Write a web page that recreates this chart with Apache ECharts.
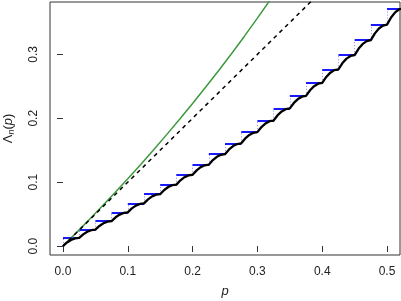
<!DOCTYPE html>
<html>
<head>
<meta charset="utf-8">
<script src="https://cdn.jsdelivr.net/npm/echarts@6/dist/echarts.min.js"></script>
<style>html,body{margin:0;padding:0;background:#fff}#c{width:401px;height:301px}</style>
</head>
<body>
<div id="c"></div>
<script>
// ---- data ----
const stepP = [0,0.025,0.05,0.075,0.1,0.125,0.15,0.175,0.2,0.225,0.25,0.275,0.3,0.325,0.35,0.375,0.4,0.425,0.45,0.475,0.5,0.525];
const cornerY = [0,0.0127,0.0256,0.0390,0.0527,0.0668,0.0813,0.0962,0.1116,0.1274,0.1438,0.1608,0.1783,0.1965,0.2154,0.2350,0.2554,0.2767,0.2989,0.3222,0.3466,0.3722];
const blackCurve = [
 [0,0],[0.00625,0.0056],[0.0125,0.0095],[0.01875,0.0119],
 [0.025,0.0127],[0.03125,0.0183],[0.0375,0.0224],[0.04375,0.0248],
 [0.05,0.0256],[0.05625,0.0315],[0.0625,0.0357],[0.06875,0.0382],
 [0.075,0.0390],[0.08125,0.0450],[0.0875,0.0493],[0.09375,0.0518],
 [0.1,0.0527],[0.10625,0.0589],[0.1125,0.0633],[0.11875,0.0659],
 [0.125,0.0668],[0.13125,0.0731],[0.1375,0.0777],[0.14375,0.0804],
 [0.15,0.0813],[0.15625,0.0878],[0.1625,0.0925],[0.16875,0.0953],
 [0.175,0.0962],[0.18125,0.1029],[0.1875,0.1078],[0.19375,0.1106],
 [0.2,0.1116],[0.20625,0.1185],[0.2125,0.1235],[0.21875,0.1264],
 [0.225,0.1274],[0.23125,0.1346],[0.2375,0.1397],[0.24375,0.1428],
 [0.25,0.1438],[0.25625,0.1512],[0.2625,0.1566],[0.26875,0.1597],
 [0.275,0.1608],[0.28125,0.1685],[0.2875,0.1739],[0.29375,0.1772],
 [0.3,0.1783],[0.30625,0.1863],[0.3125,0.1920],[0.31875,0.1954],
 [0.325,0.1965],[0.33125,0.2048],[0.3375,0.2107],[0.34375,0.2142],
 [0.35,0.2154],[0.35625,0.2240],[0.3625,0.2301],[0.36875,0.2338],
 [0.375,0.2350],[0.38125,0.2439],[0.3875,0.2503],[0.39375,0.2541],
 [0.4,0.2554],[0.40625,0.2647],[0.4125,0.2714],[0.41875,0.2754],
 [0.425,0.2767],[0.43125,0.2864],[0.4375,0.2934],[0.44375,0.2975],
 [0.45,0.2989],[0.45625,0.3091],[0.4625,0.3164],[0.46875,0.3207],
 [0.475,0.3222],[0.48125,0.3329],[0.4875,0.3405],[0.49375,0.3451],
 [0.5,0.3466],[0.50625,0.3578],[0.5125,0.3658],[0.51875,0.3706],
 [0.525,0.3722]
];
const greenCurve = [[0,0],[0.02,0.0202],[0.04,0.0408],[0.06,0.0619],[0.08,0.0834],[0.10,0.1054],[0.12,0.1278],[0.14,0.1508],[0.16,0.1744],[0.18,0.1985],[0.20,0.2231],[0.22,0.2485],[0.24,0.2744],[0.26,0.3011],[0.28,0.3285],[0.30,0.3567],[0.32,0.3857],[0.34,0.4155]];
const dashedLine = [[0,0],[0.4,0.4]];
const xTicks = [0,0.1,0.2,0.3,0.4,0.5];
const yTicks = [0,0.1,0.2,0.3];

// ---- derived marks ----
const blueSegs = [];
const dotSegs = [];
for (let k = 0; k < stepP.length - 1; k++) {
  blueSegs.push({coords: [[stepP[k], cornerY[k+1]], [stepP[k+1], cornerY[k+1]]]});
  dotSegs.push({coords: [[stepP[k], cornerY[k]], [stepP[k], cornerY[k+1]]]});
}

const FONT = '"Liberation Sans", Arial, Helvetica, sans-serif';
const chart = echarts.init(document.getElementById('c'), null, {renderer: 'canvas'});
chart.setOption({
  animation: false,
  backgroundColor: '#fff',
  grid: {left: 50, right: 1, top: 2, bottom: 46, containLabel: false, outerBoundsMode: 'none',
         show: true, borderColor: '#333', borderWidth: 1, backgroundColor: 'transparent'},
  xAxis: {
    type: 'value', min: -0.02, max: 0.52,
    axisLine: {show: false},
    splitLine: {show: false},
    axisTick: {show: true, inside: false, length: 6, customValues: xTicks, lineStyle: {color: '#333'}},
    axisLabel: {customValues: xTicks, margin: 11, fontSize: 12, color: '#222', fontFamily: FONT, formatter: v => v.toFixed(1)},
    name: 'p', nameLocation: 'middle', nameGap: 30,
    nameTextStyle: {fontSize: 13, fontStyle: 'italic', color: '#222', fontFamily: FONT}
  },
  yAxis: {
    type: 'value', min: -0.014, max: 0.382,
    axisLine: {show: false},
    splitLine: {show: false},
    axisTick: {show: true, inside: false, length: 6, customValues: yTicks, lineStyle: {color: '#333'}},
    axisLabel: {customValues: yTicks, rotate: 90, margin: 10, fontSize: 12, color: '#222', fontFamily: FONT, formatter: v => v.toFixed(1)},
    name: '{a|Λ}{s|n}{a|(}{i|p}{a|)}', nameLocation: 'middle', nameGap: 34, nameRotate: 90,
    nameTextStyle: {
      color: '#222', fontFamily: FONT,
      rich: {
        a: {fontSize: 13, fontFamily: FONT, color: '#222'},
        i: {fontSize: 13, fontStyle: 'italic', fontFamily: FONT, color: '#222'},
        s: {fontSize: 9, fontStyle: 'italic', fontFamily: FONT, color: '#222', verticalAlign: 'bottom', padding: [6, 0, 0, 0]}
      }
    }
  },
  series: [
    {type: 'line', data: greenCurve, symbol: 'none', clip: true, lineStyle: {color: '#3c9a3c', width: 1.5}},
    {type: 'line', data: dashedLine, symbol: 'none', clip: true, lineStyle: {color: '#000', width: 1.5, type: [4, 4]}},
    {type: 'lines', coordinateSystem: 'cartesian2d', data: dotSegs, clip: true, lineStyle: {color: '#8a8aff', width: 1, type: [1, 2], opacity: 1}},
    {type: 'lines', coordinateSystem: 'cartesian2d', data: blueSegs, clip: true, lineStyle: {color: '#0000ff', width: 1.8, opacity: 1}},
    {type: 'line', data: blackCurve, symbol: 'none', clip: true, lineStyle: {color: '#000', width: 2.3, join: 'round'}}
  ]
});
</script>
</body>
</html>
